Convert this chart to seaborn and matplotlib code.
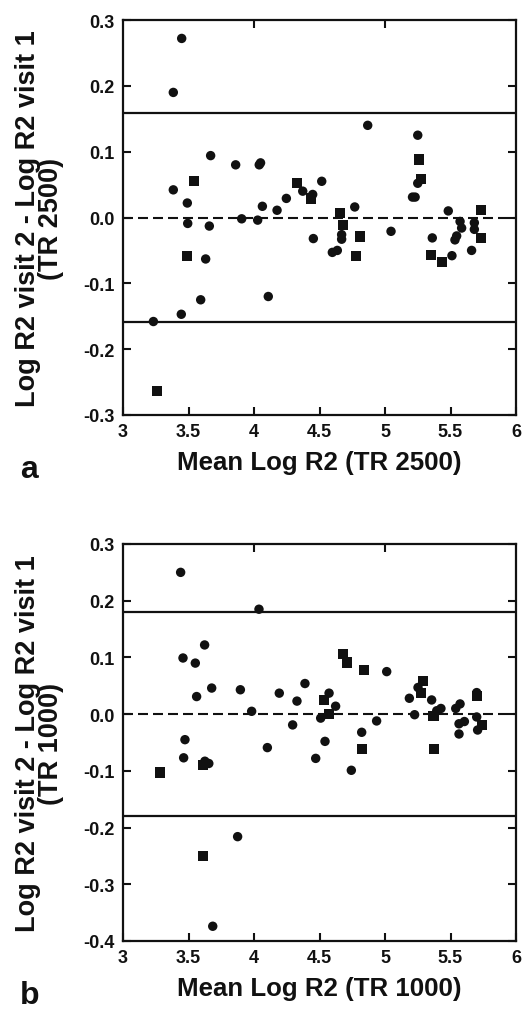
import matplotlib
matplotlib.use("Agg")
import matplotlib.pyplot as plt
import seaborn as sns
import pandas as pd

# ---- data: panel a (TR 2500) ----
a_circle_x = [3.448, 3.384, 3.384, 3.491, 3.494, 3.659, 3.669, 3.86, 3.906, 4.028, 4.04, 4.05,
              4.064, 4.176, 4.247, 4.372, 4.448, 4.517, 4.868, 5.25, 5.25, 5.21, 5.23, 4.769,
              5.483, 5.046, 5.573, 5.585, 5.682, 5.682, 3.631, 3.593, 4.109, 3.445, 3.232,
              4.453, 4.669, 4.669, 4.598, 4.636, 5.361, 5.511, 5.547, 5.534, 5.661]
a_circle_y = [0.272, 0.190, 0.042, 0.022, -0.009, -0.013, 0.094, 0.080, -0.002, -0.004, 0.080, 0.083,
              0.017, 0.011, 0.029, 0.040, 0.035, 0.055, 0.140, 0.125, 0.052, 0.031, 0.031, 0.016,
              0.010, -0.021, -0.006, -0.016, -0.008, -0.018, -0.063, -0.125, -0.120, -0.147, -0.158,
              -0.032, -0.026, -0.033, -0.053, -0.050, -0.031, -0.058, -0.028, -0.034, -0.050]
a_square_x = [3.542, 4.331, 4.433, 5.262, 5.275, 4.656, 4.682, 5.735, 3.489, 3.257, 4.809, 4.779,
              5.349, 5.435, 5.735]
a_square_y = [0.056, 0.053, 0.029, 0.088, 0.058, 0.007, -0.011, 0.011, -0.058, -0.263, -0.029, -0.058,
              -0.057, -0.067, -0.031]
a_limit = 0.158

# ---- data: panel b (TR 1000) ----
b_circle_x = [3.440, 4.038, 3.458, 3.552, 3.623, 3.562, 3.677, 3.896, 3.982, 4.193, 4.328, 4.389,
              4.295, 5.013, 4.573, 4.623, 4.509, 4.936, 5.186, 5.252, 5.356, 5.226, 5.427, 5.395,
              5.573, 5.540, 5.70, 5.70, 5.565, 5.606, 4.542, 4.471, 4.822, 4.743, 5.565, 5.707,
              3.473, 3.463, 3.625, 3.655, 4.102, 3.875, 3.685]
b_circle_y = [0.250, 0.185, 0.099, 0.090, 0.122, 0.031, 0.046, 0.043, 0.005, 0.037, 0.023, 0.054,
              -0.019, 0.075, 0.037, 0.014, -0.007, -0.012, 0.028, 0.047, 0.025, -0.001, 0.010, 0.006,
              0.018, 0.010, 0.038, -0.005, -0.017, -0.013, -0.048, -0.078, -0.032, -0.099, -0.035, -0.028,
              -0.045, -0.077, -0.083, -0.087, -0.059, -0.216, -0.374]
b_square_x = [4.682, 4.707, 4.842, 4.537, 4.575, 5.288, 5.272, 5.371, 5.70, 5.738, 4.824, 5.377,
              3.282, 3.61, 3.613]
b_square_y = [0.106, 0.091, 0.078, 0.025, 0.0, 0.058, 0.037, -0.003, 0.032, -0.019, -0.061, -0.062,
              -0.103, -0.090, -0.250]
b_limit = 0.180

x_ticks = [3, 3.5, 4, 4.5, 5, 5.5, 6]
x_ticklabels = ["3", "3.5", "4", "4.5", "5", "5.5", "6"]
a_yticks = [0.3, 0.2, 0.1, 0.0, -0.1, -0.2, -0.3]
a_yticklabels = ["0.3", "0.2", "0.1", "0.0", "-0.1", "-0.2", "-0.3"]
b_yticks = [0.3, 0.2, 0.1, 0.0, -0.1, -0.2, -0.3, -0.4]
b_yticklabels = ["0.3", "0.2", "0.1", "0.0", "-0.1", "-0.2", "-0.3", "-0.4"]

sns.set_theme(style="ticks")
plt.rcParams["font.family"] = ["Liberation Sans", "DejaVu Sans"]
plt.rcParams["font.weight"] = "bold"
plt.rcParams["text.color"] = "#111111"
plt.rcParams["axes.labelcolor"] = "#111111"
plt.rcParams["xtick.color"] = "#111111"
plt.rcParams["ytick.color"] = "#111111"

fig = plt.figure(figsize=(5.29, 10.12), dpi=100)
W, H = 529, 1012
ax_a = fig.add_axes([123 / W, 1 - 416 / H, 393 / W, 395 / H])
ax_b = fig.add_axes([123 / W, 1 - 942 / H, 393 / W, 397 / H])


def draw(ax, cx, cy, sx, sy, limit, yticks, yticklabels, ylim, tr):
    dc = pd.DataFrame({"x": cx, "y": cy})
    ds = pd.DataFrame({"x": sx, "y": sy})
    sns.scatterplot(data=dc, x="x", y="y", ax=ax, marker="o", s=46, color="#111111",
                    edgecolor="none", linewidth=0, zorder=3)
    sns.scatterplot(data=ds, x="x", y="y", ax=ax, marker="s", s=54, color="#111111",
                    edgecolor="none", linewidth=0, zorder=3)
    ax.axhline(limit, color="#111111", lw=1.6, zorder=2)
    ax.axhline(-limit, color="#111111", lw=1.6, zorder=2)
    ax.axhline(0, color="#111111", lw=1.5, dashes=(4.8, 2.4), zorder=2)
    ax.set_xlim(3, 6)
    ax.set_ylim(*ylim)
    ax.set_xticks(x_ticks)
    ax.set_xticklabels(x_ticklabels, fontsize=13, fontweight="bold", color="#111111")
    ax.set_yticks(yticks)
    ax.set_yticklabels(yticklabels, fontsize=13, fontweight="bold", color="#111111")
    ax.tick_params(axis="both", direction="in", length=6, width=1.5, pad=6, colors="#111111")
    ax.tick_params(axis="y", right=True, labelright=False)
    top = ax.secondary_xaxis("top")
    top.set_xticks([4, 5])
    top.set_xticklabels([])
    top.tick_params(direction="in", length=6, width=1.5, colors="#111111")
    top.spines["top"].set_visible(False)
    for sp in ax.spines.values():
        sp.set_linewidth(1.6)
        sp.set_color("#111111")
    ax.set_xlabel(f"Mean Log R2 (TR {tr})", fontsize=18.6, fontweight="bold", labelpad=7,
                  color="#111111")
    ax.set_ylabel(f"Log R2 visit 2 - Log R2 visit 1\n(TR {tr})", fontsize=19.5,
                  fontweight="bold", linespacing=0.86, color="#111111")
    ax.yaxis.set_label_coords(-0.15, 0.5)


draw(ax_a, a_circle_x, a_circle_y, a_square_x, a_square_y, a_limit,
     a_yticks, a_yticklabels, (-0.3, 0.3), 2500)
draw(ax_b, b_circle_x, b_circle_y, b_square_x, b_square_y, b_limit,
     b_yticks, b_yticklabels, (-0.4, 0.3), 1000)

fig.text(20 / W, 1 - 470 / H, "a", fontsize=23, fontweight="bold", ha="left", va="center",
         color="#111111")
fig.text(20 / W, 1 - 996 / H, "b", fontsize=23, fontweight="bold", ha="left", va="center",
         color="#111111")

fig.savefig("out.png", dpi=100)
